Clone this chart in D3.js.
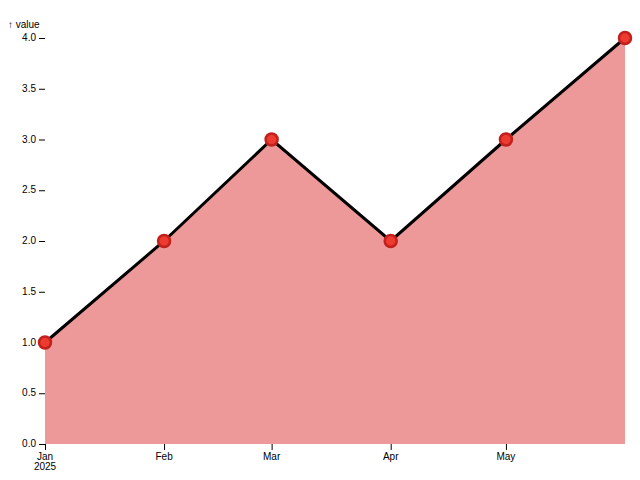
<!DOCTYPE html>
<html><head><meta charset="utf-8">
<script src="https://cdn.jsdelivr.net/npm/d3@7"></script>
<style>body{margin:0;background:#fff}svg{font-family:"Liberation Sans",Arial,sans-serif;font-size:10px}</style>
</head><body><div id="chart"></div>
<script>
const dates = ["2025-01-01","2025-02-01","2025-03-01","2025-04-01","2025-05-01","2025-06-01"];
const values = [1, 2, 3, 2, 3, 4];
const yTicks = [0,0.5,1,1.5,2,2.5,3,3.5,4];
const xTickDates = ["2025-01-01","2025-02-01","2025-03-01","2025-04-01","2025-05-01"];
const xTickLabels = [["Jan","2025"],["Feb"],["Mar"],["Apr"],["May"]];

const W=640,H=480,m={top:38,right:15,bottom:36,left:45};
const parse = d3.utcParse("%Y-%m-%d");
const data = dates.map((d,i)=>({date:parse(d), value:values[i]}));
const x = d3.scaleUtc().domain(d3.extent(data,d=>d.date)).range([m.left,W-m.right]);
const y = d3.scaleLinear().domain([0,4]).range([H-m.bottom,m.top]);

const svg = d3.select("#chart").append("svg").attr("width",W).attr("height",H);

// y axis
const ya = svg.append("g").attr("transform",`translate(${m.left},0)`);
ya.selectAll("line").data(yTicks).join("line")
  .attr("x1",-6).attr("x2",0).attr("y1",d=>y(d)+0.5).attr("y2",d=>y(d)+0.5)
  .attr("stroke","#000");
ya.selectAll("text").data(yTicks).join("text")
  .attr("x",-9).attr("y",d=>y(d)).attr("dy","0.32em").attr("text-anchor","end")
  .attr("fill","#000").text(d=>d.toFixed(1));
svg.append("text").attr("x",8).attr("y",28).attr("fill","#000").text("↑ value");

// x axis
const xa = svg.append("g").attr("transform",`translate(0,${H-m.bottom})`);
const xt = xTickDates.map((d,i)=>({date:parse(d), label:xTickLabels[i]}));
xa.selectAll("line").data(xt).join("line")
  .attr("x1",d=>x(d.date)+0.5).attr("x2",d=>x(d.date)+0.5).attr("y1",0).attr("y2",6)
  .attr("stroke","#000");
const tx = xa.selectAll("text").data(xt).join("text")
  .attr("text-anchor","middle").attr("fill","#000")
  .attr("transform",d=>`translate(${x(d.date)},9)`);
tx.selectAll("tspan").data(d=>d.label).join("tspan")
  .attr("x",0).attr("dy",(d,i)=> i===0 ? "0.71em" : "1em").text(d=>d);

svg.append("path").datum(data)
  .attr("fill","#ee9999")
  .attr("d", d3.area().x(d=>x(d.date)).y0(y(0)).y1(d=>y(d.value)));

svg.append("path").datum(data)
  .attr("fill","none").attr("stroke","#000").attr("stroke-width",3)
  .attr("stroke-linejoin","miter")
  .attr("d", d3.line().x(d=>x(d.date)).y(d=>y(d.value)));

svg.selectAll("circle.pt").data(data).join("circle")
  .attr("class","pt")
  .attr("cx",d=>x(d.date)).attr("cy",d=>y(d.value)).attr("r",6)
  .attr("fill","#ee3b30").attr("stroke","#c2201c").attr("stroke-width",2.5);
</script></body></html>
